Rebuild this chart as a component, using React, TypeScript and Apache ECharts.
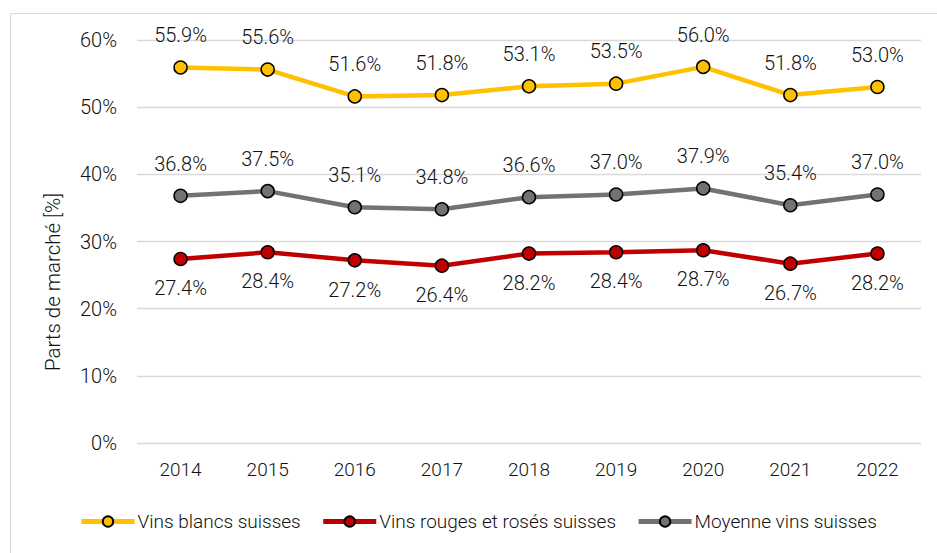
import React, { useEffect, useRef } from "react";
import * as echarts from "echarts";

const years = ["2014", "2015", "2016", "2017", "2018", "2019", "2020", "2021", "2022"];
const blancs = [55.9, 55.6, 51.6, 51.8, 53.1, 53.5, 56.0, 51.8, 53.0];
const rouges = [27.4, 28.4, 27.2, 26.4, 28.2, 28.4, 28.7, 26.7, 28.2];
const moyenne = [36.8, 37.5, 35.1, 34.8, 36.6, 37.0, 37.9, 35.4, 37.0];
const seriesNames = ["Vins blancs suisses", "Vins rouges et rosés suisses", "Moyenne vins suisses"];
const colors = ["#FFC000", "#C00000", "#767171"];
const yAxisTitle = "Parts de marché [%]";

const FONT = "Roboto, 'DejaVu Sans', sans-serif";
const W = 300;
const TXT = "#111";

export default function App() {
  const ref = useRef<HTMLDivElement>(null);
  useEffect(() => {
    const chart = echarts.init(ref.current!, null, { renderer: "svg" });
    const mk = (name: string, data: number[], color: string, pos: "top" | "bottom", dist: number) => ({
      name,
      type: "line",
      data,
      symbol: "circle",
      symbolSize: 13,
      lineStyle: { color, width: 4.5 },
      itemStyle: { color, borderColor: "#000", borderWidth: 1.5 },
      label: {
        show: true,
        position: pos,
        distance: dist,
        formatter: (p: any) => p.value.toFixed(1) + "%",
        fontFamily: FONT,
        fontWeight: W,
        fontSize: 20,
        color: TXT,
      },
      z: 3,
    });
    chart.setOption({
      animation: false,
      backgroundColor: "#fff",
      textStyle: { fontFamily: FONT, fontWeight: W },
      graphic: [
        {
          type: "rect",
          shape: { x: 10.5, y: 13.5, width: 940, height: 560 },
          style: { fill: "none", stroke: "#d9d9d9", lineWidth: 1 },
          z: -1,
        },
        {
          type: "text",
          x: 53,
          y: 282,
          rotation: Math.PI / 2,
          style: {
            text: yAxisTitle,
            fontFamily: FONT,
            fontWeight: W,
            fontSize: 20.5,
            fill: TXT,
            textAlign: "center",
            textVerticalAlign: "middle",
          },
        },
      ],
      grid: { left: 137, right: 16, top: 40, bottom: 110, containLabel: false },
      xAxis: {
        type: "category",
        data: years,
        boundaryGap: true,
        axisLine: { show: false },
        axisTick: { show: false },
        axisLabel: { fontFamily: FONT, fontWeight: W, fontSize: 19, color: TXT, margin: 17 },
      },
      yAxis: {
        type: "value",
        min: 0,
        max: 60,
        interval: 10,
        axisLabel: { fontFamily: FONT, fontWeight: W, fontSize: 20, color: TXT, margin: 20, formatter: "{value}%" },
        splitLine: { lineStyle: { color: "#d9d9d9", width: 1.3 } },
      },
      legend: {
        left: 79,
        top: 512,
        padding: 0,
        itemWidth: 53,
        itemHeight: 13,
        itemGap: 20,
        lineStyle: { width: 5 },
        textStyle: { fontFamily: FONT, fontWeight: W, fontSize: 19, color: TXT, padding: [0, 0, 0, -2] },
        data: seriesNames,
      },
      series: [
        mk(seriesNames[0], blancs, colors[0], "top", 15),
        mk(seriesNames[1], rouges, colors[1], "bottom", 12),
        mk(seriesNames[2], moyenne, colors[2], "top", 15),
      ],
    });
    return () => chart.dispose();
  }, []);
  return (
    <div
      ref={ref}
      style={{ position: "absolute", left: 0, top: 0, width: 937, height: 553 }}
    />
  );
}
